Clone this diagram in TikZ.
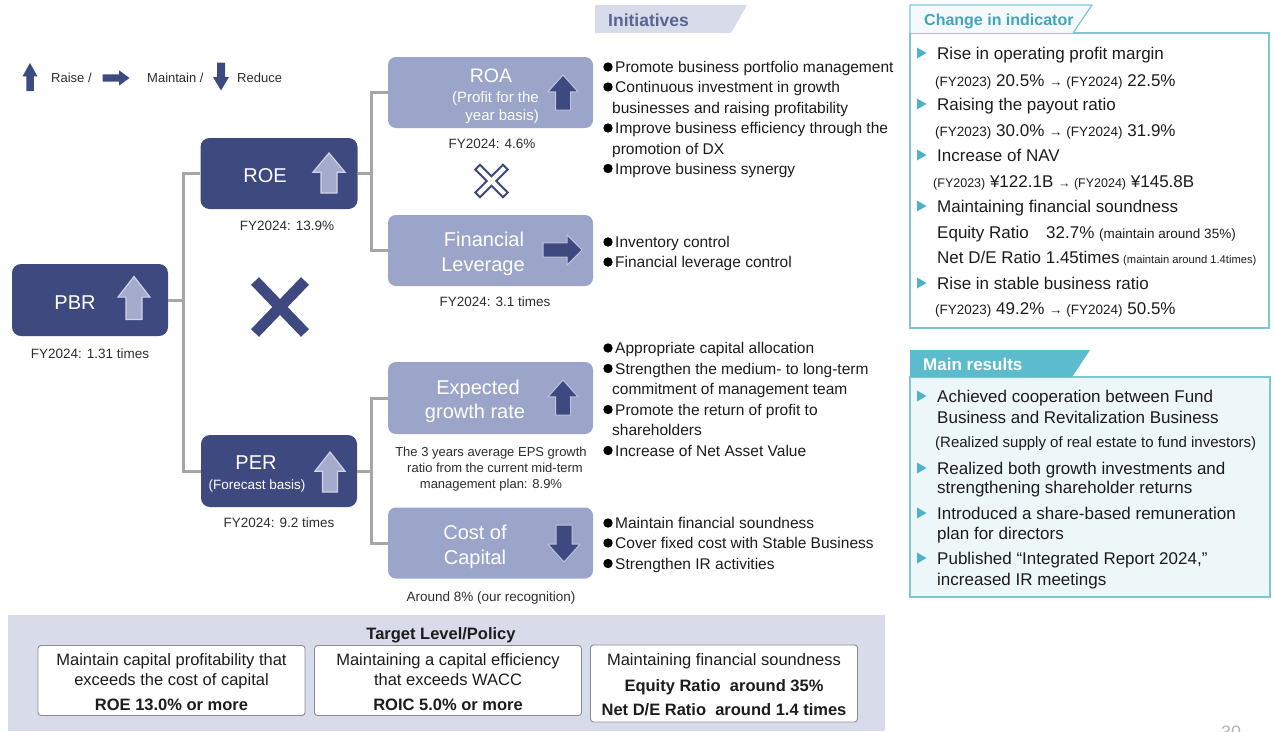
\documentclass[tikz,border=0pt]{standalone}
\usepackage{fontspec}
\setmainfont{Liberation Sans}
\newcommand\fsz[1]{\fontsize{#1}{#1}\selectfont}
\definecolor{navy}{RGB}{62,73,128}
\definecolor{legnavy}{RGB}{60,74,130}
\definecolor{paleblue}{RGB}{155,164,201}
\definecolor{lightarrow}{RGB}{164,171,205}
\definecolor{arrowedge}{RGB}{208,212,231}
\definecolor{darkedge}{RGB}{190,196,222}
\definecolor{connector}{RGB}{166,166,166}
\definecolor{banner}{RGB}{215,219,234}
\definecolor{bannertext}{RGB}{90,101,146}
\definecolor{tealmark}{RGB}{78,178,202}
\definecolor{tealline}{RGB}{128,198,210}
\definecolor{tealtab}{RGB}{92,188,206}
\definecolor{tealtext}{RGB}{68,165,186}
\definecolor{tabfill}{RGB}{244,250,251}
\definecolor{resfill}{RGB}{237,246,248}
\definecolor{tgtfill}{RGB}{215,219,234}
\definecolor{tgtedge}{RGB}{140,140,150}
\definecolor{txt}{RGB}{28,28,28}
\definecolor{lbltxt}{RGB}{45,45,45}
\tikzset{
  pics/upblk/.style={code={\path[#1] (-0.25,0.5) -- (-0.25,-0.02) -- (-0.5,-0.02) -- (0,-0.5) -- (0.5,-0.02) -- (0.25,-0.02) -- (0.25,0.5) -- cycle;}},
  pics/downblk/.style={code={\path[#1] (-0.25,-0.5) -- (-0.25,0.02) -- (-0.5,0.02) -- (0,0.5) -- (0.5,0.02) -- (0.25,0.02) -- (0.25,-0.5) -- cycle;}},
  pics/rightblk/.style={code={\path[#1] (-0.5,-0.24) -- (0.12,-0.24) -- (0.12,-0.5) -- (0.5,0) -- (0.12,0.5) -- (0.12,0.24) -- (-0.5,0.24) -- cycle;}},
  pics/tri/.style={code={\fill[tealmark] (-4.5,-5.5) -- (5,0) -- (-4.5,5.5) -- cycle;}},
}
\begin{document}
\begin{tikzpicture}[x=1pt,y=-1pt,
  navybox/.style={fill=navy, rounded corners=9pt, inner sep=0},
  palebox/.style={fill=paleblue, rounded corners=8pt, inner sep=0},
  ttl/.style={anchor=base, inner sep=0, text=white, font=\fsz{20}},
  sub/.style={anchor=base, inner sep=0, text=white, font=\fsz{15}},
  lbl/.style={anchor=base, inner sep=0, text=lbltxt, font=\fsz{13.5}},
  lgd/.style={anchor=base west, inner sep=0, text=lbltxt, font=\fsz{13}},
  ini/.style={anchor=base west, inner sep=0, text=txt, font=\fsz{15.5}},
  chg/.style={anchor=base west, inner sep=0, text=txt, font=\fsz{17}},
  tgt/.style={anchor=base, inner sep=0, text=txt, font=\fsz{16.5}},
  tgtbox/.style={fill=white, draw=tgtedge, line width=0.9pt, rounded corners=3pt, inner sep=0},
  conn/.style={draw=connector, line width=3pt},
  lightarr/.style={fill=lightarrow, draw=arrowedge, line width=1.2pt},
  darkarr/.style={fill=navy, draw=darkedge, line width=1pt},
  legarr/.style={fill=legnavy},
  dot/.style={fill=black}
]
\useasboundingbox (0,0) rectangle (1274,731);

% ---------- legend ----------
\pic[xscale=15,yscale=28] at (30,77) {upblk=legarr};
\node[lgd] (lg-raise) at (51,82) {Raise /};
\pic[xscale=27,yscale=15] at (116,78) {rightblk=legarr};
\node[lgd] (lg-maint) at (147,82) {Maintain /};
\pic[xscale=16,yscale=28] at (221,76.5) {downblk=legarr};
\node[lgd] (lg-red) at (237,82) {Reduce};

% ---------- tree: PBR -> ROE x PER ----------
\node[navybox, minimum width=156pt, minimum height=72pt] (pbr) at (90,300) {};
\node[ttl] (pbr-t) at (75,309) {PBR};
\pic[xscale=32,yscale=43] at (134,298) {upblk=lightarr};
\node[lbl] (pbr-l) at (90,358) {FY2024: 1.31 times};

\node[navybox, minimum width=157pt, minimum height=71pt] (roe) at (279,173.5) {};
\node[ttl] (roe-t) at (265,182) {ROE};
\pic[xscale=32,yscale=40] at (329,173) {upblk=lightarr};
\node[lbl] (roe-l) at (287,230) {FY2024: 13.9\%};

\node[navybox, minimum width=156pt, minimum height=72pt] (per) at (279,471) {};
\node[ttl] (per-t) at (256,469) {PER};
\node[sub, font=\fsz{13.5}] (per-s) at (257,489) {(Forecast basis)};
\pic[xscale=30,yscale=40] at (330,472) {upblk=lightarr};
\node[lbl] (per-l) at (279,527) {FY2024: 9.2 times};

\coordinate (bus1) at (183.5,0);
\draw[conn] (pbr.east) -- (pbr.east -| bus1);
\draw[conn] (roe.west) -- (roe.west -| bus1) |- (per.west);

% multiplication sign between ROE and PER
\draw[navy, line width=11pt] (255,281) -- (305,333) (305,281) -- (255,333);

% ---------- ROE branch ----------
\node[palebox, minimum width=205pt, minimum height=71pt] (roa) at (490.5,92.5) {};
\node[ttl, font=\fsz{19.5}] (roa-t) at (491,82) {ROA};
\node[sub, anchor=base east] (roa-s1) at (539,102.5) {(Profit for the};
\node[sub, anchor=base east] (roa-s2) at (539,120.5) {year basis)};
\pic[xscale=30,yscale=35] at (563,92.5) {upblk=darkarr};
\node[lbl] (roa-l) at (492,148) {FY2024: 4.6\%};

% small outlined multiplication sign
\draw[navy, line width=8.5pt, line cap=rect] (480,169.5) -- (503,192.5) (503,169.5) -- (480,192.5);
\draw[white, line width=4.3pt, line cap=rect] (480,169.5) -- (503,192.5) (503,169.5) -- (480,192.5);

\node[palebox, minimum width=205pt, minimum height=71pt] (fl) at (490.5,250.5) {};
\node[ttl] (fl-t1) at (484,246) {Financial};
\node[ttl] (fl-t2) at (483,271) {Leverage};
\pic[xscale=39,yscale=30] at (562.5,250) {rightblk=darkarr};
\node[lbl] (fl-l) at (495,306) {FY2024: 3.1 times};

\coordinate (bus2) at (371,0);
\draw[conn] (roe.east) -- (roe.east -| bus2);
\draw[conn] (roa.west) -- (roa.west -| bus2) |- (fl.west);

% ---------- PER branch ----------
\node[palebox, minimum width=205pt, minimum height=72pt] (egr) at (490.5,398) {};
\node[ttl] (egr-t1) at (478,394) {Expected};
\node[ttl] (egr-t2) at (475,418) {growth rate};
\pic[xscale=30,yscale=35] at (563,397.5) {upblk=darkarr};
\node[lbl, font=\fsz{13}] (egr-l1) at (491,456) {The 3 years average EPS growth};
\node[lbl, font=\fsz{13}] (egr-l2) at (495,472) {ratio from the current mid-term};
\node[lbl, font=\fsz{13}] (egr-l3) at (491,488) {management plan: 8.9\%};

\node[palebox, minimum width=205pt, minimum height=71pt] (coc) at (490.5,543) {};
\node[ttl] (coc-t1) at (475,539) {Cost of};
\node[ttl] (coc-t2) at (475,564) {Capital};
\pic[xscale=32,yscale=37] at (564,543.5) {downblk=darkarr};
\node[lbl] (coc-l) at (491,601) {Around 8\% (our recognition)};

\draw[conn] (per.east) -- (per.east -| bus2);
\draw[conn] (egr.west) -- (egr.west -| bus2) |- (coc.west);

% ---------- initiatives ----------
\fill[banner] (595,5) -- (747,5) -- (731,33) -- (595,33) -- cycle;
\node[anchor=base west, inner sep=0, text=bannertext, font=\bfseries\fsz{17.5}] (init) at (608,26.3) {Initiatives};

\foreach \yy in {67,87,128,168.5,242,262,348,368.5,409.5,450.5,523,543,563.5}
  \fill[dot] (608,\yy) circle (4.7pt);
\node[ini] (i1) at (615,72.5) {Promote business portfolio management};
\node[ini] (i2) at (615,92.5) {Continuous investment in growth};
\node[ini] (i3) at (612,113) {businesses and raising profitability};
\node[ini] (i4) at (615,133.5) {Improve business efficiency through the};
\node[ini] (i5) at (612,154) {promotion of DX};
\node[ini] (i6) at (615,174) {Improve business synergy};
\node[ini] (i7) at (615,247.5) {Inventory control};
\node[ini] (i8) at (615,267.5) {Financial leverage control};
\node[ini] (i9) at (615,353.5) {Appropriate capital allocation};
\node[ini] (i10) at (615,374) {Strengthen the medium- to long-term};
\node[ini] (i11) at (612,394.5) {commitment of management team};
\node[ini] (i12) at (615,415) {Promote the return of profit to};
\node[ini] (i13) at (612,435.5) {shareholders};
\node[ini] (i14) at (615,456) {Increase of Net Asset Value};
\node[ini] (i15) at (615,528.5) {Maintain financial soundness};
\node[ini] (i16) at (615,548.5) {Cover fixed cost with Stable Business};
\node[ini] (i17) at (615,569) {Strengthen IR activities};

% ---------- change in indicator ----------
\draw[tealline, line width=1.5pt] (910,33) rectangle (1269,328);
\filldraw[fill=tabfill, draw=tealline, line width=1.2pt] (910,33) -- (910,5) -- (1092,5) -- (1073,33);
\node[anchor=base west, inner sep=0, text=tealtext, font=\bfseries\fsz{16}] (chg-title) at (924,25.5) {Change in indicator};

\foreach \yy in {53,104,155,206,283} \pic at (921.5,\yy) {tri};
\node[chg] (c1) at (937,59) {Rise in operating profit margin};
\node[chg] (c2) at (935,86) {{\fsz{13.5}(FY2023)} 20.5\% {\fsz{13.5}→ (FY2024)} 22.5\%};
\node[chg] (c3) at (937,110) {Raising the payout ratio};
\node[chg] (c4) at (935,136) {{\fsz{13.5}(FY2023)} 30.0\% {\fsz{13.5}→ (FY2024)} 31.9\%};
\node[chg] (c5) at (937,161) {Increase of NAV};
\node[chg] (c6) at (933,187) {{\fsz{12.5}(FY2023)} ¥122.1B {\fsz{12.5}→ (FY2024)} ¥145.8B};
\node[chg] (c7) at (937,212) {Maintaining financial soundness};
\node[chg] (c8a) at (937,238) {Equity Ratio};
\node[chg] (c8b) at (1046,238) {32.7\%};
\node[chg, font=\fsz{13.5}] (c8c) at (1099,238) {(maintain around 35\%)};
\node[chg] (c9a) at (937,263) {Net D/E Ratio 1.45times};
\node[chg, font=\fsz{11.2}] (c9b) at (1123,263) {(maintain around 1.4times)};
\node[chg] (c10) at (937,289) {Rise in stable business ratio};
\node[chg] (c11) at (935,314) {{\fsz{13.5}(FY2023)} 49.2\% {\fsz{13.5}→ (FY2024)} 50.5\%};

% ---------- main results ----------
\filldraw[fill=resfill, draw=tealline, line width=1.5pt] (910,377) rectangle (1270,597);
\fill[tealtab] (910,377) -- (910,350) -- (1090,350) -- (1072,377) -- cycle;
\node[anchor=base west, inner sep=0, text=white, font=\bfseries\fsz{17}] (res-title) at (923,370) {Main results};

\foreach \yy in {396,468,513,558} \pic at (921.5,\yy) {tri};
\node[chg] (r1) at (937,402) {Achieved cooperation between Fund};
\node[chg] (r2) at (937,423) {Business and Revitalization Business};
\node[chg, font=\fsz{15}] (r3) at (935,447.5) {(Realized supply of real estate to fund investors)};
\node[chg] (r4) at (937,474) {Realized both growth investments and};
\node[chg] (r5) at (937,493) {strengthening shareholder returns};
\node[chg] (r6) at (937,519) {Introduced a share-based remuneration};
\node[chg] (r7) at (937,539) {plan for directors};
\node[chg] (r8) at (937,564) {Published “Integrated Report 2024,”};
\node[chg] (r9) at (937,585) {increased IR meetings};

% ---------- target level / policy ----------
\fill[tgtfill] (8,615) rectangle (885,731);
\node[tgt, font=\bfseries\fsz{16.5}] (tgt-title) at (441,639) {Target Level/Policy};
\node[tgtbox, minimum width=267pt, minimum height=70pt] (tgt1) at (171.5,680.5) {};
\node[tgtbox, minimum width=267pt, minimum height=70pt] (tgt2) at (448,680.5) {};
\node[tgtbox, minimum width=267pt, minimum height=77pt] (tgt3) at (724,683.5) {};
\node[tgt] (t1a) at (171.5,665.5) {Maintain capital profitability that};
\node[tgt] (t1b) at (171.5,685.5) {exceeds the cost of capital};
\node[tgt, font=\bfseries\fsz{16.5}] (t1c) at (171.5,710.5) {ROE 13.0\% or more};
\node[tgt] (t2a) at (448,665.5) {Maintaining a capital efficiency};
\node[tgt] (t2b) at (448,685.5) {that exceeds WACC};
\node[tgt, font=\bfseries\fsz{16.5}] (t2c) at (448,710.5) {ROIC 5.0\% or more};
\node[tgt] (t3a) at (724,665.5) {Maintaining financial soundness};
\node[tgt, font=\bfseries\fsz{16.5}] (t3b) at (724,691.5) {Equity Ratio\ \ around 35\%};
\node[tgt, font=\bfseries\fsz{16.5}] (t3c) at (724,715.5) {Net D/E Ratio\ \ around 1.4 times};

% page number, running off the bottom edge
\node[anchor=north west, inner sep=0, text=black!30, font=\fsz{18}] (pageno) at (1221,725.5) {30};
\end{tikzpicture}
\end{document}
